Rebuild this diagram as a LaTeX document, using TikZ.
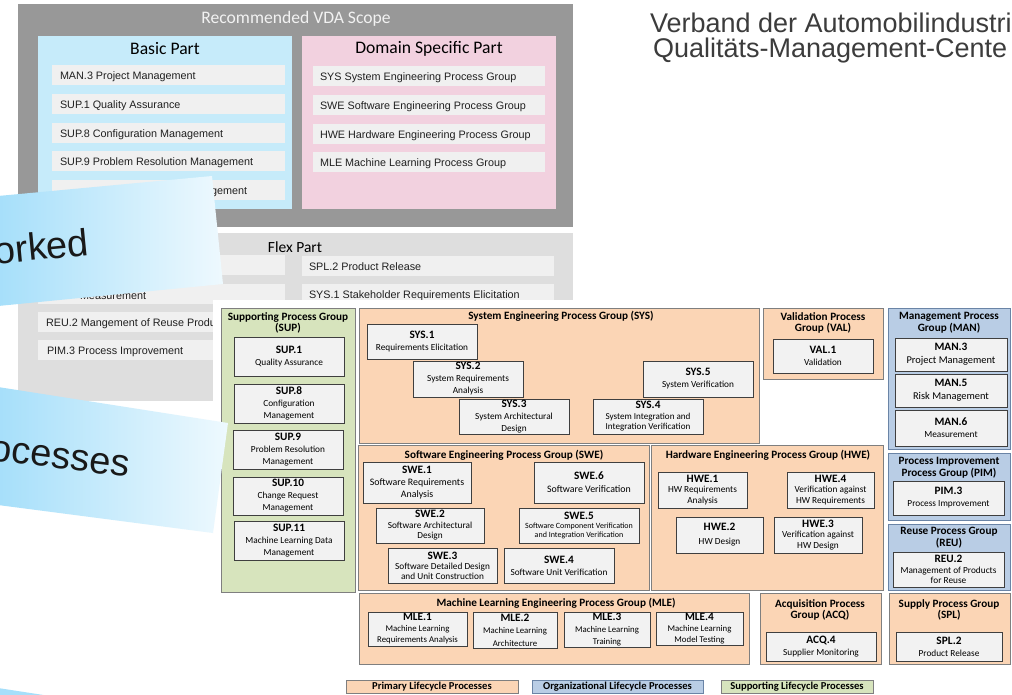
\documentclass[tikz,border=0pt]{standalone}
\usepackage{fontspec}
\setmainfont{Carlito}
\newfontfamily\arial{Liberation Sans}
\definecolor{vdagray}{HTML}{989898}
\definecolor{basicblue}{HTML}{C6EBFA}
\definecolor{dompink}{HTML}{F2D1DF}
\definecolor{itemgray}{HTML}{F0F0F0}
\definecolor{flexgray}{HTML}{DEDEDE}
\definecolor{slidetext}{HTML}{202020}
\definecolor{hdrtext}{HTML}{3C3C3C}
\definecolor{prim}{HTML}{FBD5B5}
\definecolor{orgb}{HTML}{B9CDE5}
\definecolor{supg}{HTML}{D7E4BD}
\definecolor{pbox}{HTML}{F2F2F2}
\definecolor{grpline}{HTML}{7F7F7F}
\definecolor{orgline}{HTML}{6A84A6}
\definecolor{boxline}{HTML}{3F3F3F}
\definecolor{bannerL}{HTML}{A6DFFA}
\definecolor{bannerR}{HTML}{EEF9FE}
\newcommand\codefont{\fontsize{11.3}{12}\selectfont\bfseries}
\newcommand\descfont{\fontsize{9.3}{12}\selectfont}
\newcommand\gtfont{\fontsize{11.2}{11.8}\selectfont\bfseries}
\newcommand\legfont{\fontsize{10.6}{12}\selectfont\bfseries}
\newcommand\bx[7]{\node[#2,minimum width={#5-#3},minimum height={#6-#4}] (#1) at ({(#3+#5)/2},{(#4+#6)/2}) {#7};}
\tikzset{
  every node/.style={inner sep=0pt, outer sep=0pt},
  vdabox/.style={fill=vdagray},
  basicbox/.style={fill=basicblue},
  pinkbox/.style={fill=dompink},
  flexbox/.style={fill=flexgray},
  slideitem/.style={fill=itemgray},
  slidetxt/.style={anchor=base west, font=\arial\fontsize{10.8}{13}\selectfont, text=slidetext},
  slidehead/.style={font=\fontsize{17.6}{20}\selectfont, text=black},
  prigrp/.style={fill=prim, draw=grpline, line width=0.9pt},
  orggrp/.style={fill=orgb, draw=orgline, line width=0.9pt},
  supgrp/.style={fill=supg, draw=grpline, line width=0.9pt},
  pitem/.style={fill=pbox, draw=boxline, line width=0.9pt, align=center, font=\descfont},
  gtitle/.style={font=\gtfont, align=center},
  bannertxt/.style={font=\arial\fontsize{38}{40}\selectfont, text=black!90},
  hdr/.style={anchor=base west, font=\arial\fontsize{27}{30}\selectfont, text=hdrtext},
}
\begin{document}
\begin{tikzpicture}[x=1pt,y=-1pt]
\useasboundingbox (0,0) rectangle (1012,694);
\clip (0,0) rectangle (1012,694);
\fill[white] (0,0) rectangle (1012,694);
% ---------------- slide: recommended VDA scope
\bx{vda}{vdabox}{18}{4}{573}{227}{}
\node[font=\fontsize{17.6}{20}\selectfont, text=white!95!black] (vdat) at (296,19) {Recommended VDA Scope};
\bx{basic}{basicbox}{38}{36}{292}{209}{}
\node[slidehead] (basict) at (165,49) {Basic Part};
\bx{dom}{pinkbox}{302}{36}{556}{209}{}
\node[slidehead] (domt) at (429,49) {Domain Specific Part};
\bx{b1}{slideitem}{52}{65}{285}{85}{}
\bx{b2}{slideitem}{52}{94}{285}{114}{}
\bx{b3}{slideitem}{52}{123}{285}{143}{}
\bx{b4}{slideitem}{52}{151}{285}{171}{}
\bx{b5}{slideitem}{52}{180}{285}{200}{}
\node[slidetxt] (b1t) at (60,79) {MAN.3 Project Management};
\node[slidetxt] (b2t) at (60,108) {SUP.1 Quality Assurance};
\node[slidetxt] (b3t) at (60,137) {SUP.8 Configuration Management};
\node[slidetxt] (b4t) at (60,165) {SUP.9 Problem Resolution Management};
\node[slidetxt] (b5t) at (211,194) {gement};
\bx{d1}{slideitem}{313}{66}{545}{86}{}
\bx{d2}{slideitem}{313}{95}{545}{115}{}
\bx{d3}{slideitem}{313}{124}{545}{144}{}
\bx{d4}{slideitem}{313}{152}{545}{172}{}
\node[slidetxt] (d1t) at (320,80) {SYS System Engineering Process Group};
\node[slidetxt] (d2t) at (320,109) {SWE Software Engineering Process Group};
\node[slidetxt] (d3t) at (320,138) {HWE Hardware Engineering Process Group};
\node[slidetxt] (d4t) at (320,166) {MLE Machine Learning Process Group};
% flex part
\bx{flex}{flexbox}{18}{233}{573}{401}{}
\node[font=\fontsize{15.5}{18}\selectfont, text=black] (flext) at (295,247) {Flex Part};
\bx{f1}{slideitem}{38}{255}{285}{275}{}
\bx{f2}{slideitem}{38}{284}{285}{304}{}
\bx{f3}{slideitem}{38}{312}{285}{332}{}
\bx{f4}{slideitem}{38}{340}{285}{360}{}
\bx{g1}{slideitem}{302}{256}{554}{276}{}
\bx{g2}{slideitem}{302}{284}{554}{304}{}
\node[slidetxt] (f2t) at (80,299) {Measurement};
\node[slidetxt] (f3t) at (46,326) {REU.2 Mangement of Reuse Produ};
\node[slidetxt] (f4t) at (47,354) {PIM.3 Process Improvement};
\node[slidetxt] (g1t) at (309,270) {SPL.2 Product Release};
\node[slidetxt] (g2t) at (309,298) {SYS.1 Stakeholder Requirements Elicitation};
% ---------------- process reference model picture
\fill[white] (213,300) rectangle (1012,694);
% SUP
\bx{supg}{supgrp}{221}{308}{355}{592}{}
\node[gtitle] (supt) at (288,323) {Supporting Process Group\\(SUP)};
\bx{sup1}{pitem}{234}{337}{344}{376}{{\codefont SUP.1}\\Quality Assurance}
\bx{sup8}{pitem}{234}{384}{344}{423}{{\codefont SUP.8}\\Configuration\\Management}
\bx{sup9}{pitem}{233}{430}{343}{469}{{\codefont SUP.9}\\Problem Resolution\\Management}
\bx{sup10}{pitem}{233}{477}{343}{515}{{\codefont SUP.10}\\Change Request\\Management}
\bx{sup11}{pitem}{234}{521}{344}{560}{{\codefont SUP.11}\\Machine Learning Data\\Management}
% SYS
\bx{sysg}{prigrp}{359}{308}{759}{443}{}
\node[gtitle] (syst) at (561,316) {System Engineering Process Group (SYS)};
\bx{sys1}{pitem}{367}{324}{477}{359}{{\codefont SYS.1}\\Requirements Elicitation}
\bx{sys2}{pitem}{413}{361}{523}{397}{{\codefont SYS.2}\\System Requirements\\Analysis}
\bx{sys3}{pitem}{459}{399}{569}{434}{{\codefont SYS.3}\\System Architectural\\Design}
\bx{sys4}{pitem, font=\fontsize{9.1}{10.5}\selectfont}{593}{399}{703}{434}{{\codefont SYS.4}\\System Integration and\\Integration Verification}
\bx{sys5}{pitem}{643}{361}{753}{397}{{\codefont SYS.5}\\System Verification}
% VAL
\bx{valg}{prigrp}{763}{308}{883}{379}{}
\node[gtitle] (valt) at (823,323) {Validation Process\\Group (VAL)};
\bx{val1}{pitem}{773}{339}{873}{373}{{\codefont VAL.1}\\Validation}
% MAN
\bx{mang}{orggrp}{888}{308}{1010}{449}{}
\node[gtitle] (mant) at (949,323) {Management Process\\Group (MAN)};
\bx{man3}{pitem, font=\fontsize{10.4}{13}\selectfont}{895}{338}{1007}{371}{{\codefont MAN.3}\\Project Management}
\bx{man5}{pitem, font=\fontsize{10.4}{13}\selectfont}{895}{374}{1007}{407}{{\codefont MAN.5}\\Risk Management}
\bx{man6}{pitem}{895}{410}{1007}{446}{{\codefont MAN.6}\\Measurement}
% SWE
\bx{sweg}{prigrp}{358}{445}{649}{590}{}
\node[gtitle] (swet) at (504,455) {Software Engineering Process Group (SWE)};
\bx{swe1}{pitem, font=\fontsize{9.9}{12.3}\selectfont}{363}{462}{471}{503}{{\codefont SWE.1}\\Software Requirements\\Analysis}
\bx{swe6}{pitem, font=\fontsize{9.9}{13}\selectfont}{534}{462}{644}{503}{{\codefont SWE.6}\\Software Verification}
\bx{swe2}{pitem, font=\fontsize{9.3}{10.5}\selectfont}{376}{508}{484}{543}{{\codefont SWE.2}\\Software Architectural\\Design}
\bx{swe5}{pitem, font=\fontsize{8}{9}\selectfont}{519}{508}{639}{543}{{\codefont SWE.5}\\Software Component Verification\\and Integration Verification}
\bx{swe3}{pitem, font=\fontsize{9.3}{10}\selectfont}{388}{548}{497}{583}{{\codefont SWE.3}\\Software Detailed Design\\and Unit Construction}
\bx{swe4}{pitem}{504}{548}{614}{583}{{\codefont SWE.4}\\Software Unit Verification}
% HWE
\bx{hweg}{prigrp}{651}{445}{883}{590}{}
\node[gtitle] (hwet) at (768,455) {Hardware Engineering Process Group (HWE)};
\bx{hwe1}{pitem, font=\fontsize{9.3}{10.8}\selectfont}{658}{472}{747}{508}{{\codefont HWE.1}\\HW Requirements\\Analysis}
\bx{hwe4}{pitem, font=\fontsize{9.3}{10.8}\selectfont}{787}{472}{874}{508}{{\codefont HWE.4}\\Verification against\\HW Requirements}
\bx{hwe2}{pitem, font=\fontsize{9.3}{14}\selectfont}{676}{517}{763}{553}{{\codefont HWE.2}\\HW Design}
\bx{hwe3}{pitem, font=\fontsize{9.3}{10.8}\selectfont}{774}{517}{862}{553}{{\codefont HWE.3}\\Verification against\\HW Design}
% PIM
\bx{pimg}{orggrp}{888}{453}{1010}{520}{}
\node[gtitle] (pimt) at (949,468) {Process Improvement\\Process Group (PIM)};
\bx{pim3}{pitem}{893}{481}{1004}{515}{{\codefont PIM.3}\\Process Improvement}
% REU
\bx{reug}{orggrp}{888}{524}{1010}{590}{}
\node[gtitle] (reut) at (949,538) {Reuse Process Group\\(REU)};
\bx{reu2}{pitem, font=\fontsize{9.3}{10.3}\selectfont}{893}{552}{1004}{587}{{\codefont REU.2}\\Management of Products\\for Reuse}
% MLE
\bx{mleg}{prigrp}{359}{593}{749}{664}{}
\node[gtitle] (mlet) at (556,603) {Machine Learning Engineering Process Group (MLE)};
\bx{mle1}{pitem, font=\fontsize{8.8}{11}\selectfont}{368}{612}{467}{646}{{\codefont MLE.1}\\Machine Learning\\Requirements Analysis}
\bx{mle2}{pitem, font=\fontsize{8.8}{12.5}\selectfont}{473}{612}{557}{648}{{\codefont MLE.2}\\Machine Learning\\Architecture}
\bx{mle3}{pitem, font=\fontsize{8.8}{12}\selectfont}{564}{612}{650}{647}{{\codefont MLE.3}\\Machine Learning\\Training}
\bx{mle4}{pitem, font=\fontsize{8.8}{11}\selectfont}{656}{612}{743}{645}{{\codefont MLE.4}\\Machine Learning\\Model Testing}
% ACQ
\bx{acqg}{prigrp}{760}{593}{881}{664}{}
\node[gtitle] (acqt) at (820,610) {Acquisition Process\\Group (ACQ)};
\bx{acq4}{pitem}{766}{632}{876}{661}{{\codefont ACQ.4}\\Supplier Monitoring}
% SPL
\bx{splg}{prigrp}{889}{593}{1010}{664}{}
\node[gtitle] (splt) at (949,610) {Supply Process Group\\(SPL)};
\bx{spl2}{pitem}{896}{632}{1002}{661}{{\codefont SPL.2}\\Product Release}
% legend
\bx{legp}{prigrp}{346}{680}{518}{693}{\legfont Primary Lifecycle Processes}
\bx{lego}{orggrp}{532}{680}{703}{693}{\legfont Organizational Lifecycle Processes}
\bx{legs}{supgrp}{721}{680}{873}{693}{\legfont Supporting Lifecycle Processes}
% ---------------- banners
\shade[left color=bannerL, right color=bannerR] (-2,196) -- (212,176) -- (223,284) -- (-2,306) -- cycle;
\node[bannertxt, anchor=base east, rotate=5.5] (ban1t) at (90,255) {orked};
\shade[left color=bannerL, right color=bannerR] (-2,387) -- (228,423) -- (213,533) -- (-2,505) -- cycle;
\node[bannertxt, anchor=base east, rotate=-7] (ban2t) at (128,477) {ocesses};
\fill[bannerL] (-2,688) -- (50,696) -- (-2,696) -- cycle;
% ---------------- header
\node[hdr] (hdr1) at (650,32) {Verband der Automobilindustri};
\node[hdr] (hdr2) at (653,57) {Qualitäts-Management-Cente};
\end{tikzpicture}
\end{document}
